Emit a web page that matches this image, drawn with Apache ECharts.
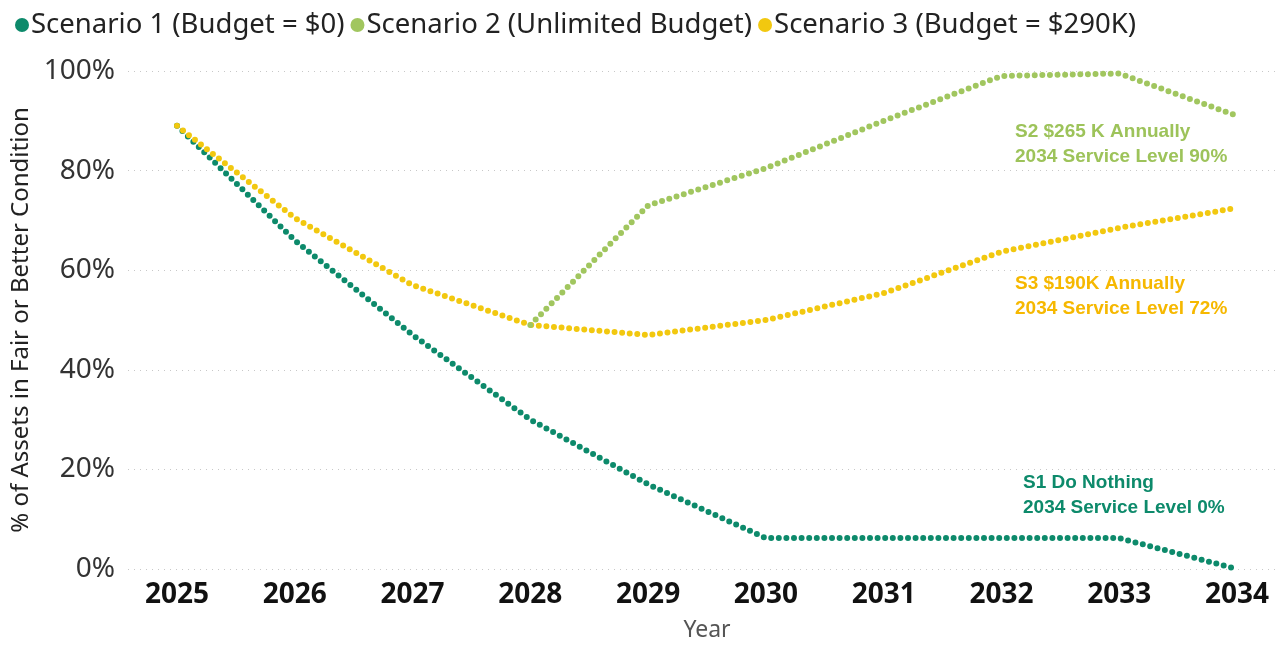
<!DOCTYPE html>
<html>
<head>
<meta charset="utf-8">
<script src="https://cdn.jsdelivr.net/npm/echarts@6/dist/echarts.min.js"></script>
<style>
  html, body { margin: 0; padding: 0; background: #fff; }
  #main { width: 1279px; height: 645px; }
</style>
</head>
<body>
<div id="main"></div>
<script>
// categories and values (share of assets, 0..1)
var years = ['2025', '2026', '2027', '2028', '2029', '2030', '2031', '2032', '2033', '2034'];
var scenario1 = [0.89, 0.66, 0.47, 0.30, 0.17, 0.062, 0.062, 0.062, 0.062, 0.0];
var scenario2 = [null, null, null, 0.49, 0.73, 0.805, 0.90, 0.99, 0.995, 0.91];
var scenario3 = [0.89, 0.705, 0.57, 0.49, 0.47, 0.50, 0.554, 0.637, 0.685, 0.725];

var names = ['Scenario 1 (Budget = $0)', 'Scenario 2 (Unlimited Budget)', 'Scenario 3 (Budget = $290K)'];
var colors = ['#0D8A6B', '#A1C65F', '#F2C80F'];

var myChart = echarts.init(document.getElementById('main'));

function dotted(c) {
  return { color: c, width: 6, type: [0, 7.6], cap: 'round', join: 'round' };
}

myChart.setOption({
  animation: false,
  textStyle: { fontFamily: 'Noto Sans' },
  legend: {
    left: 10, top: 6,
    icon: 'circle',
    itemWidth: 14, itemHeight: 14, itemGap: 6,
    textStyle: { fontSize: 27.5, color: '#222', padding: [0, 0, 0, -3] },
    data: names
  },
  grid: [
    // background grid: y labels and dotted gridlines
    { left: 128, right: 4, top: 71, bottom: 76, containLabel: false, outerBoundsMode: 'none' },
    // plotting grid: first/last category at the edges
    { left: 177, right: 42, top: 71, bottom: 76, containLabel: false, outerBoundsMode: 'none' }
  ],
  xAxis: [
    { gridIndex: 0, type: 'value', show: false, min: 0, max: 1 },
    {
      gridIndex: 1, type: 'category', data: years, boundaryGap: false,
      axisLine: { show: false }, axisTick: { show: false },
      axisLabel: { fontSize: 28, fontWeight: 'bold', color: '#111', margin: 12 },
      name: 'Year', nameLocation: 'middle', nameGap: 50,
      nameTextStyle: { fontSize: 23, color: '#555' }
    }
  ],
  yAxis: [
    {
      gridIndex: 0, type: 'value', min: 0, max: 1, interval: 0.2,
      axisLine: { show: false }, axisTick: { show: false },
      axisLabel: {
        fontSize: 28, color: '#333', margin: 13,
        formatter: function (v) { return Math.round(v * 100) + '%'; }
      },
      splitLine: { lineStyle: { color: '#c8c8c8', type: [1, 5], width: 1 } },
      name: '% of Assets in Fair or Better Condition',
      nameLocation: 'middle', nameGap: 88,
      nameTextStyle: { fontSize: 24, color: '#222' }
    },
    { gridIndex: 1, type: 'value', min: 0, max: 1, show: false }
  ],
  series: [
    {
      name: names[0], type: 'line', xAxisIndex: 1, yAxisIndex: 1,
      data: scenario1, symbol: 'none', color: colors[0], lineStyle: dotted(colors[0]), z: 3
    },
    {
      name: names[2], type: 'line', xAxisIndex: 1, yAxisIndex: 1,
      data: scenario3, symbol: 'none', color: colors[2], lineStyle: dotted(colors[2]), z: 4
    },
    {
      name: names[1], type: 'line', xAxisIndex: 1, yAxisIndex: 1,
      data: scenario2, symbol: 'none', color: colors[1], lineStyle: dotted(colors[1]), z: 5
    }
  ],
  graphic: [
    {
      type: 'text', left: 1015, top: 119, z: 10,
      style: {
        text: 'S2 $265 K Annually\n2034 Service Level 90%',
        font: 'bold 19px "Liberation Sans", Arial', lineHeight: 25, fill: '#9DC35A'
      }
    },
    {
      type: 'text', left: 1015, top: 271, z: 10,
      style: {
        text: 'S3 $190K Annually\n2034 Service Level 72%',
        font: 'bold 19px "Liberation Sans", Arial', lineHeight: 25, fill: '#F6B800'
      }
    },
    {
      type: 'text', left: 1023, top: 470, z: 10,
      style: {
        text: 'S1 Do Nothing\n2034 Service Level 0%',
        font: 'bold 19px "Liberation Sans", Arial', lineHeight: 25, fill: '#0D8A6B'
      }
    }
  ]
});
</script>
</body>
</html>
